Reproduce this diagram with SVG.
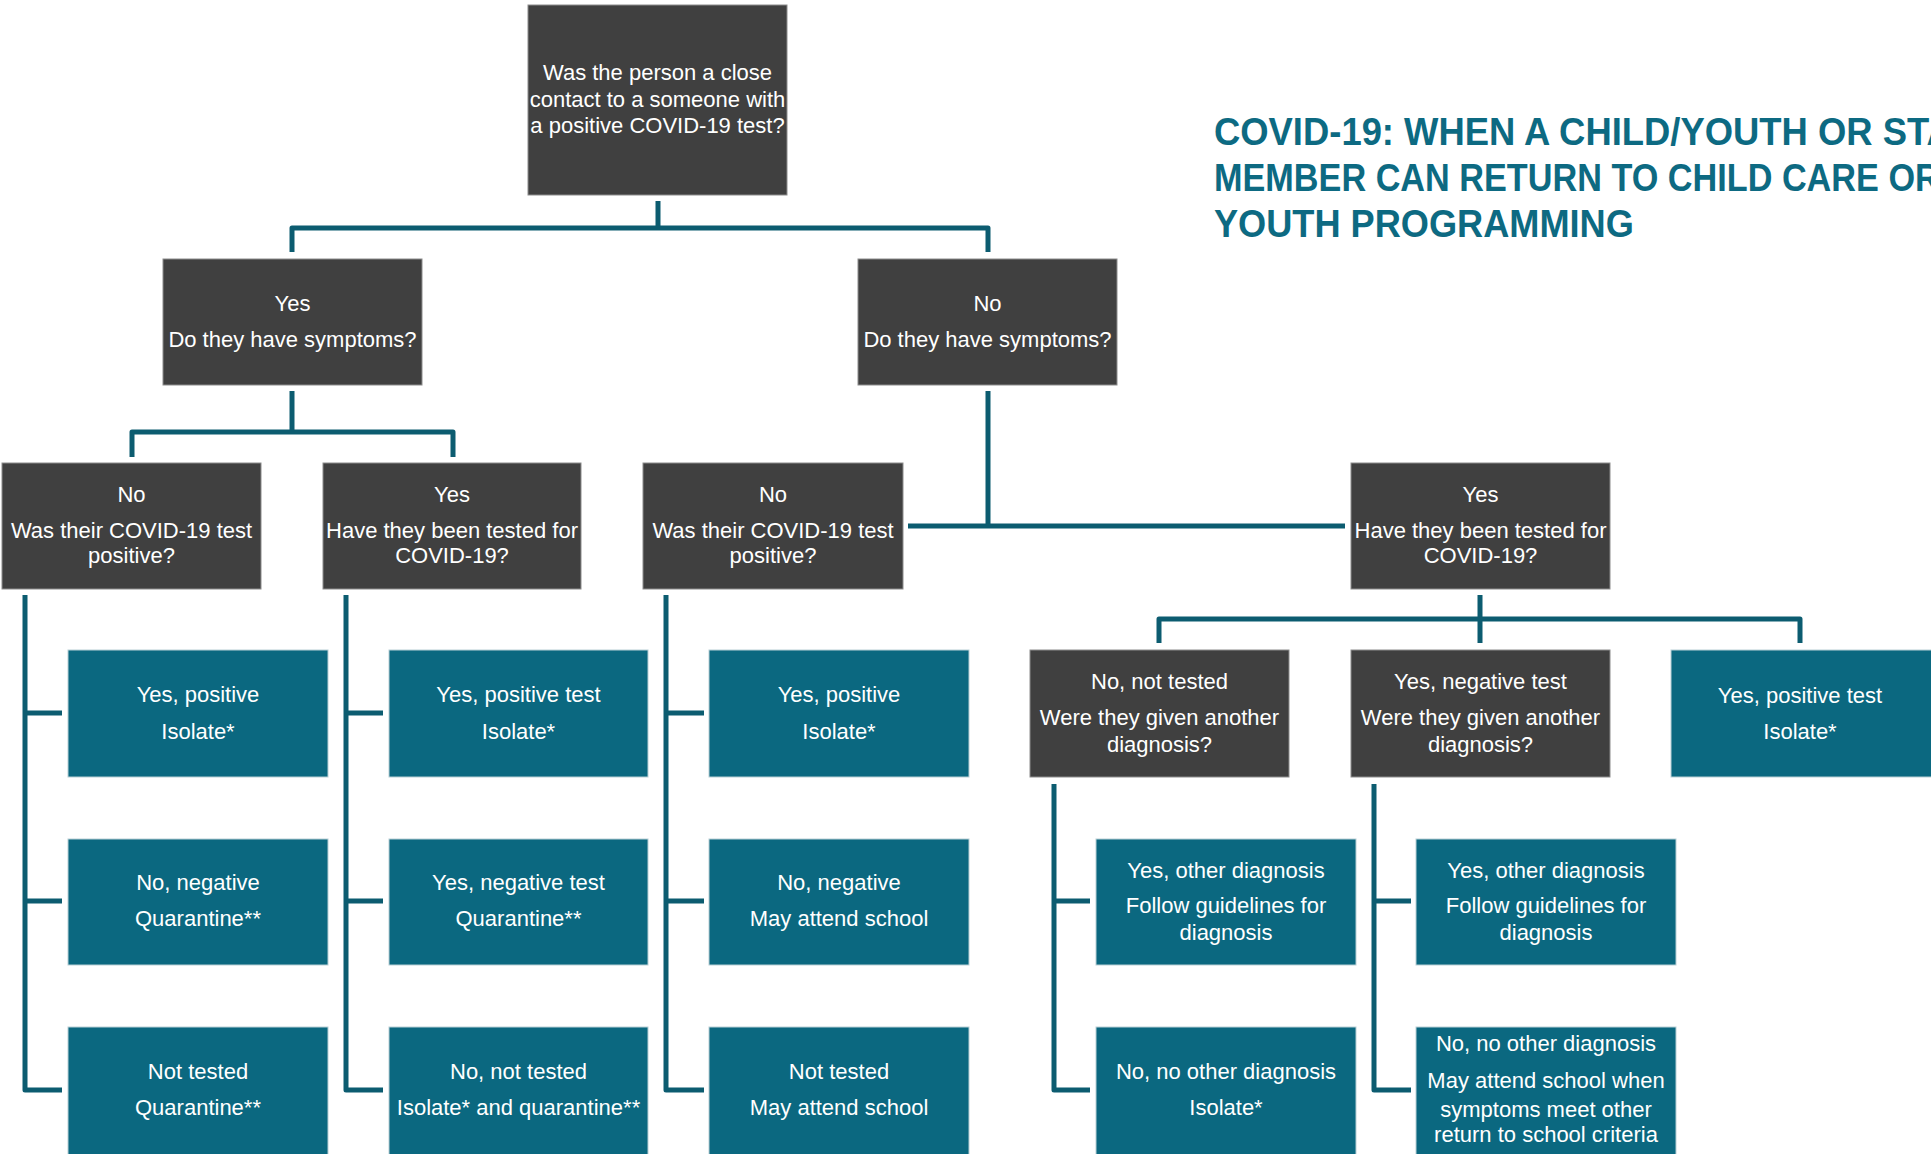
<svg xmlns="http://www.w3.org/2000/svg" width="1931" height="1154" viewBox="0 0 1931 1154">
<style>
.q{fill:#404040;stroke:#8c8c8c;stroke-width:1}
.o{fill:#0b6880;stroke:#b9cfd5;stroke-width:1}
.t{font-family:"Liberation Sans",Arial,sans-serif;font-size:22px;fill:#ffffff;text-anchor:middle}
.c{fill:none;stroke:#0c5c70;stroke-width:5;stroke-linejoin:round;stroke-linecap:butt}
.title{font-family:"Liberation Sans",Arial,sans-serif;font-weight:bold;font-size:38px;fill:#0d6a82}
</style>
<rect width="1931" height="1154" fill="#ffffff"/>

<g id="title">
<text class="title" transform="translate(1214,145) scale(0.958,1)" x="0" y="0">COVID-19: WHEN A CHILD/YOUTH OR STAFF</text>
<text class="title" transform="translate(1214,191) scale(0.901,1)" x="0" y="0">MEMBER CAN RETURN TO CHILD CARE OR</text>
<text class="title" transform="translate(1214,237) scale(0.952,1)" x="0" y="0">YOUTH PROGRAMMING</text>
</g>

<g id="connectors">
<path class="c" d="M658,201 V228 M292,252 V228 H988 V252"/>
<path class="c" d="M292,391 V432 M132,457 V432 H453 V457"/>
<path class="c" d="M988,391 V526 M908,526 H1345"/>
<path class="c" d="M25,595 V1090 H62 M25,713 H62 M25,901 H62"/>
<path class="c" d="M346,595 V1090 H383 M346,713 H383 M346,901 H383"/>
<path class="c" d="M666,595 V1090 H704 M666,713 H704 M666,901 H704"/>
<path class="c" d="M1480,595 V643 M1159,643 V619 H1800 V643"/>
<path class="c" d="M1054,784 V1090 H1090 M1054,901 H1090"/>
<path class="c" d="M1374,784 V1090 H1411 M1374,901 H1411"/>
</g>

<g id="n-root">
<rect class="q" x="528" y="5" width="259" height="190"/>
<text class="t" x="657.5" y="80">Was the person a close</text>
<text class="t" x="657.5" y="107">contact to a someone with</text>
<text class="t" x="657.5" y="133">a positive COVID-19 test?</text>
</g>

<g id="n-yes-symptoms">
<rect class="q" x="163" y="259" width="259" height="126"/>
<text class="t" x="292.5" y="311">Yes</text>
<text class="t" x="292.5" y="347">Do they have symptoms?</text>
</g>
<g id="n-no-symptoms">
<rect class="q" x="858" y="259" width="259" height="126"/>
<text class="t" x="987.5" y="311">No</text>
<text class="t" x="987.5" y="347">Do they have symptoms?</text>
</g>

<g id="n-c">
<rect class="q" x="2" y="463" width="259" height="126"/>
<text class="t" x="131.5" y="502">No</text>
<text class="t" x="131.5" y="538">Was their COVID-19 test</text>
<text class="t" x="131.5" y="563">positive?</text>
</g>
<g id="n-d">
<rect class="q" x="323" y="463" width="258" height="126"/>
<text class="t" x="452" y="502">Yes</text>
<text class="t" x="452" y="538">Have they been tested for</text>
<text class="t" x="452" y="563">COVID-19?</text>
</g>
<g id="n-e">
<rect class="q" x="643" y="463" width="260" height="126"/>
<text class="t" x="773" y="502">No</text>
<text class="t" x="773" y="538">Was their COVID-19 test</text>
<text class="t" x="773" y="563">positive?</text>
</g>
<g id="n-f">
<rect class="q" x="1351" y="463" width="259" height="126"/>
<text class="t" x="1480.5" y="502">Yes</text>
<text class="t" x="1480.5" y="538">Have they been tested for</text>
<text class="t" x="1480.5" y="563">COVID-19?</text>
</g>

<g id="n-g">
<rect class="q" x="1030" y="650" width="259" height="127"/>
<text class="t" x="1159.5" y="689">No, not tested</text>
<text class="t" x="1159.5" y="725">Were they given another</text>
<text class="t" x="1159.5" y="752">diagnosis?</text>
</g>
<g id="n-h">
<rect class="q" x="1351" y="650" width="259" height="127"/>
<text class="t" x="1480.5" y="689">Yes, negative test</text>
<text class="t" x="1480.5" y="725">Were they given another</text>
<text class="t" x="1480.5" y="752">diagnosis?</text>
</g>
<g id="n-i">
<rect class="o" x="1671" y="650" width="262" height="127"/>
<text class="t" x="1800" y="703">Yes, positive test</text>
<text class="t" x="1800" y="739">Isolate*</text>
</g>

<g id="n-c1">
<rect class="o" x="68" y="650" width="260" height="127"/>
<text class="t" x="198" y="702">Yes, positive</text>
<text class="t" x="198" y="739">Isolate*</text>
</g>
<g id="n-c2">
<rect class="o" x="68" y="839" width="260" height="126"/>
<text class="t" x="198" y="890">No, negative</text>
<text class="t" x="198" y="926">Quarantine**</text>
</g>
<g id="n-c3">
<rect class="o" x="68" y="1027" width="260" height="135"/>
<text class="t" x="198" y="1079">Not tested</text>
<text class="t" x="198" y="1115">Quarantine**</text>
</g>

<g id="n-d1">
<rect class="o" x="389" y="650" width="259" height="127"/>
<text class="t" x="518.5" y="702">Yes, positive test</text>
<text class="t" x="518.5" y="739">Isolate*</text>
</g>
<g id="n-d2">
<rect class="o" x="389" y="839" width="259" height="126"/>
<text class="t" x="518.5" y="890">Yes, negative test</text>
<text class="t" x="518.5" y="926">Quarantine**</text>
</g>
<g id="n-d3">
<rect class="o" x="389" y="1027" width="259" height="135"/>
<text class="t" x="518.5" y="1079">No, not tested</text>
<text class="t" x="518.5" y="1115">Isolate* and quarantine**</text>
</g>

<g id="n-e1">
<rect class="o" x="709" y="650" width="260" height="127"/>
<text class="t" x="839" y="702">Yes, positive</text>
<text class="t" x="839" y="739">Isolate*</text>
</g>
<g id="n-e2">
<rect class="o" x="709" y="839" width="260" height="126"/>
<text class="t" x="839" y="890">No, negative</text>
<text class="t" x="839" y="926">May attend school</text>
</g>
<g id="n-e3">
<rect class="o" x="709" y="1027" width="260" height="135"/>
<text class="t" x="839" y="1079">Not tested</text>
<text class="t" x="839" y="1115">May attend school</text>
</g>

<g id="n-g2">
<rect class="o" x="1096" y="839" width="260" height="126"/>
<text class="t" x="1226" y="878">Yes, other diagnosis</text>
<text class="t" x="1226" y="913">Follow guidelines for</text>
<text class="t" x="1226" y="940">diagnosis</text>
</g>
<g id="n-g3">
<rect class="o" x="1096" y="1027" width="260" height="135"/>
<text class="t" x="1226" y="1079">No, no other diagnosis</text>
<text class="t" x="1226" y="1115">Isolate*</text>
</g>

<g id="n-h2">
<rect class="o" x="1416" y="839" width="260" height="126"/>
<text class="t" x="1546" y="878">Yes, other diagnosis</text>
<text class="t" x="1546" y="913">Follow guidelines for</text>
<text class="t" x="1546" y="940">diagnosis</text>
</g>
<g id="n-h3">
<rect class="o" x="1416" y="1027" width="260" height="135"/>
<text class="t" x="1546" y="1051">No, no other diagnosis</text>
<text class="t" x="1546" y="1088">May attend school when</text>
<text class="t" x="1546" y="1117">symptoms meet other</text>
<text class="t" x="1546" y="1142">return to school criteria</text>
</g>
</svg>
